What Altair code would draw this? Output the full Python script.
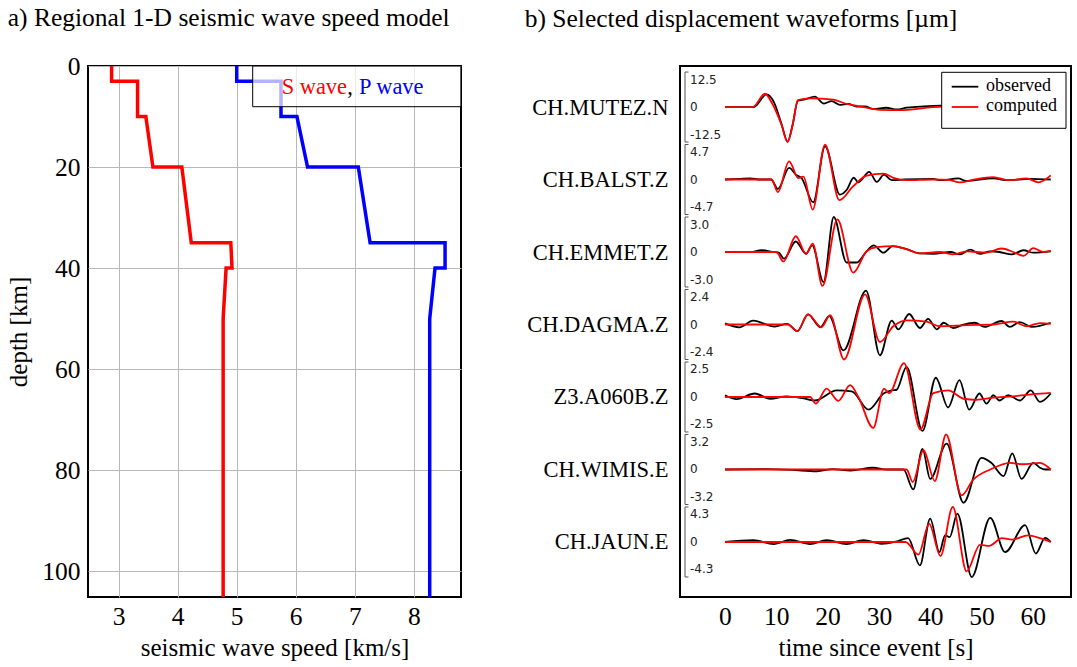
import altair as alt
import pandas as pd

SERIF = "Liberation Serif"
SANS = "DejaVu Sans"

# ---------------- panel a: regional 1-D model ----------------
S_DEPTH = [0, 3, 3, 10, 10, 20, 20, 35, 35, 40, 40, 50, 105.1]
S_SPEED = [2.88, 2.88, 3.32, 3.32, 3.46, 3.58, 4.07, 4.23, 4.90, 4.92, 4.82, 4.77, 4.77]
P_DEPTH = [0, 3, 3, 10, 10, 20, 20, 35, 35, 40, 40, 50, 105.1]
P_SPEED = [5.00, 5.00, 5.75, 5.75, 6.02, 6.20, 7.06, 7.26, 8.53, 8.53, 8.36, 8.27, 8.27]
SPEED_TICKS = [3, 4, 5, 6, 7, 8]
DEPTH_TICKS = [0, 20, 40, 60, 80, 100]

# ---------------- panel b: waveforms ----------------
STATIONS = ["CH.MUTEZ.N", "CH.BALST.Z", "CH.EMMET.Z", "CH.DAGMA.Z",
            "Z3.A060B.Z", "CH.WIMIS.E", "CH.JAUN.E"]
SCALES = [12.5, 4.7, 3.0, 2.4, 2.5, 3.2, 4.3]
TIME_TICKS = [0, 10, 20, 30, 40, 50, 60]

# (time s, amplitude as fraction of the trace scale)
MUTEZ_OBS = [(0, 0), (5.6, 0), (8.1, 0.36), (9.6, 0.12), (11.05, -0.5), (12.2, -0.99),
             (13.2, -0.5), (14.2, 0.18), (15.6, 0.22), (17.5, 0.30), (19.3, 0.10),
             (20.8, 0.17), (22.4, 0.06), (24.0, 0.09), (25.7, 0.01), (27.3, 0.02),
             (29.0, -0.06), (31.4, -0.02), (33.5, -0.07), (35.4, -0.02), (38.0, 0.01),
             (42.0, 0.04), (50.0, 0.0), (63.5, 0.0)]
MUTEZ_COM = [(0, 0), (5.4, 0), (7.8, 0.38), (9.1, 0.13), (11.0, -0.5), (12.2, -1.0),
             (13.2, -0.5), (14.2, 0.2), (16.6, 0.25), (21.1, 0.21), (23.7, 0.09),
             (26.3, 0.02), (30.2, -0.08), (34.1, -0.09), (40.6, 0.0), (44.0, 0.02),
             (63.5, 0.0)]

BALST_OBS = [(0, 0), (3.0, 0.02), (4.9, 0.03), (7.0, 0.0), (9.0, 0.0), (10.3, -0.27),
             (12.5, 0.33), (13.9, 0.13), (14.9, 0.05), (17.2, -0.65), (19.5, 0.95),
             (22.4, -0.43), (23.7, -0.30), (25.1, 0.05), (26.0, -0.08), (28.1, 0.22),
             (29.6, -0.07), (31.0, 0.14), (32.5, -0.02), (35.0, 0.0), (40.6, 0.02),
             (42.0, -0.02), (45.5, 0.03), (47.0, -0.04), (52.3, 0.03), (55.0, -0.02),
             (59.5, 0.02), (63.5, 0.0)]
BALST_COM = [(0, 0), (9.1, 0), (10.3, -0.36), (12.5, 0.52), (14.3, 0.04), (15.3, 0.08),
             (17.1, -0.86), (19.5, 1.0), (22.3, -0.59), (25.0, -0.19), (27.6, 0.11),
             (30.9, 0.17), (32.8, 0.05), (35.4, -0.02), (40.6, 0.0), (43.5, -0.01),
             (45.8, -0.08), (48.5, 0.0), (52.3, 0.07), (55.3, -0.02), (58.8, 0.03),
             (61.1, -0.08), (63.5, 0.12)]

EMMET_OBS = [(0, 0), (5.0, 0.0), (7.1, 0.05), (9.5, 0.0), (10.5, -0.02), (11.5, -0.19),
             (13.8, 0.30), (15.8, -0.05), (17.0, 0.19), (19.2, -0.86), (21.2, 1.0),
             (23.7, -0.30), (25.7, -0.30), (27.6, 0.02), (29.0, 0.19), (30.9, -0.02),
             (32.7, 0.17), (35.4, 0.08), (38.0, -0.04), (40.6, -0.05), (44.0, 0.0),
             (45.8, -0.07), (47.8, 0.07), (49.7, -0.05), (51.7, 0.02), (53.5, 0.0),
             (55.9, -0.07), (58.2, 0.05), (60.1, -0.02), (63.5, 0.02)]
EMMET_COM = [(0, 0), (10.0, 0), (11.4, -0.27), (13.8, 0.45), (15.8, -0.05), (17.1, 0.24),
             (19.0, -0.97), (21.9, 0.93), (25.0, -0.59), (27.6, 0.02), (29.6, 0.14),
             (32.8, 0.17), (35.4, 0.08), (38.0, -0.04), (41.9, 0.0), (44.5, -0.07),
             (47.1, 0.02), (50.9, -0.02), (53.9, 0.10), (56.2, 0.0), (58.2, -0.11),
             (60.1, 0.11), (62.0, 0.0), (63.5, 0.03)]

DAGMA_OBS = [(0, 0.03), (2.8, -0.08), (5.5, 0.11), (9.7, -0.06), (12.1, 0.02), (14.1, -0.19),
             (16.2, 0.29), (18.6, -0.08), (20.3, 0.24), (23.1, -0.74), (27.5, 0.97),
             (30.2, -0.88), (32.5, 0.11), (33.8, -0.14), (35.9, 0.30), (38.0, -0.10),
             (39.6, 0.16), (41.3, -0.14), (42.6, 0.05), (44.5, -0.10), (46.5, 0.0),
             (48.7, 0.05), (50.6, -0.07), (53.9, 0.10), (55.5, -0.07), (57.5, 0.07),
             (59.8, -0.07), (63.5, 0.05)]
DAGMA_COM = [(0, 0), (12.3, 0), (14.1, -0.19), (16.2, 0.29), (18.8, -0.08), (20.5, 0.27),
             (23.2, -1.0), (27.3, 0.86), (30.2, -0.5), (32.8, -0.05), (35.4, 0.12),
             (39.3, 0.08), (41.9, -0.05), (47.1, -0.02), (52.3, 0.0), (56.2, 0.08),
             (58.8, -0.05), (61.4, 0.04), (63.5, 0.02)]

A060B_OBS = [(0, 0.05), (2.3, -0.06), (5.8, 0.10), (8.8, -0.05), (12.0, 0.02), (15.3, -0.04),
             (17.5, -0.10), (21.8, 0.19), (24.7, 0.16), (28.0, -0.36), (30.9, 0.10),
             (32.5, 0.19), (33.4, 0.20), (35.4, 0.86), (38.5, -0.97), (41.1, 0.55),
             (43.5, -0.30), (45.7, 0.48), (47.6, -0.36), (49.6, 0.10), (51.0, -0.19),
             (52.3, 0.05), (53.5, -0.10), (55.2, 0.05), (57.5, -0.10), (59.6, 0.19),
             (61.4, -0.14), (63.5, 0.10)]
A060B_COM = [(0, 0), (16.6, 0), (17.7, -0.19), (19.8, 0.24), (22.1, -0.11), (24.4, 0.34),
             (26.0, 0.0), (28.9, -0.88), (31.0, 0.24), (32.0, 0.11), (34.9, 0.97),
             (38.1, -0.93), (40.6, 0.11), (43.5, 0.19), (46.5, -0.05), (49.0, -0.08),
             (52.3, -0.02), (56.2, 0.02), (60.1, 0.08), (63.5, 0.12)]

WIMIS_OBS = [(0, 0), (8.0, 0.01), (13.0, -0.01), (17.9, -0.05), (21.0, 0.01), (24.5, -0.03),
             (28.9, 0.05), (31.5, 0.0), (34.8, 0.0), (36.7, -0.57), (38.5, 0.59),
             (40.0, -0.27), (43.2, 0.74), (46.5, -0.95), (50.0, 0.33), (51.9, 0.19),
             (54.3, -0.19), (56.0, 0.46), (57.8, -0.27), (60.1, 0.19), (61.4, 0.05),
             (62.5, 0.0), (63.5, 0.0)]
WIMIS_COM = [(0, 0), (35.4, 0), (36.6, -0.36), (38.7, 0.55), (40.9, -0.33), (43.1, 1.0),
             (46.1, -0.74), (48.4, -0.29), (51.7, 0.0), (55.6, 0.19), (58.0, 0.15),
             (61.4, 0.19), (63.5, 0.0)]

JAUN_OBS = [(0, 0), (5.5, 0.05), (9.5, -0.06), (12.7, 0.06), (16.6, -0.06), (19.8, 0.05),
            (23.7, -0.06), (27.0, 0.05), (30.5, -0.05), (33.5, 0.02), (35.7, 0.11),
            (38.0, -0.67), (40.0, 0.67), (41.8, -0.29), (42.9, 0.19), (43.8, 0.14),
            (45.3, 0.81), (48.1, -1.0), (51.7, 0.69), (54.6, -0.29), (58.5, 0.48),
            (60.6, -0.33), (62.4, 0.12), (63.5, 0.0)]
JAUN_COM = [(0, 0), (35.2, 0), (37.7, -0.36), (39.8, 0.52), (42.0, -0.40), (44.4, 1.0),
            (47.1, -0.84), (49.7, -0.08), (51.5, -0.11), (54.0, 0.11), (56.0, 0.07),
            (59.1, 0.19), (61.4, 0.11), (63.5, 0.0)]

OBSERVED = [MUTEZ_OBS, BALST_OBS, EMMET_OBS, DAGMA_OBS, A060B_OBS, WIMIS_OBS, JAUN_OBS]
COMPUTED = [MUTEZ_COM, BALST_COM, EMMET_COM, DAGMA_COM, A060B_COM, WIMIS_COM, JAUN_COM]

# ---------------- layout constants ----------------
W1, W2, H = 373, 391, 531
AMP = 35 / 72.5        # half-height of a trace, in band units
LAB = 27.5 / 72.5      # offset of scale labels

def axis_style(**kw):
    base = dict(labelFont=SERIF, labelFontSize=25.5, titleFont=SERIF, titleFontSize=25,
                titleFontWeight="normal", labelColor="black", titleColor="black",
                ticks=False, domain=False, gridColor="#b8b8b8", gridWidth=1)
    base.update(kw)
    return alt.Axis(**base)

one = pd.DataFrame({"k": [0]})

# ---------- panel a ----------
model_rows = []
for name, deps, spds in (("S", S_DEPTH, S_SPEED), ("P", P_DEPTH, P_SPEED)):
    for k, (d, v) in enumerate(zip(deps, spds)):
        model_rows.append({"wave": name, "depth": d, "speed": v, "idx": k})
model = pd.DataFrame(model_rows)

lines_a = alt.Chart(model).mark_line(strokeWidth=3.5, strokeJoin="miter").encode(
    x=alt.X("speed:Q", scale=alt.Scale(domain=[2.48, 8.8], nice=False, zero=False),
            axis=axis_style(values=SPEED_TICKS, grid=True, title="seismic wave speed [km/s]",
                            labelPadding=7, titlePadding=6)),
    y=alt.Y("depth:Q", scale=alt.Scale(domain=[0, 105.1], nice=False, zero=False, reverse=True),
            axis=axis_style(values=DEPTH_TICKS, grid=True, title="depth [km]",
                            labelPadding=8, titlePadding=10)),
    color=alt.Color("wave:N", scale=alt.Scale(domain=["S", "P"], range=["#ff0000", "#0000ff"]),
                    legend=None),
    order=alt.Order("idx:Q"),
    detail="wave:N",
)

leg_a_box = alt.Chart(one).mark_rect(fill="white", fillOpacity=0.7, stroke="black",
                                     strokeWidth=1).encode(
    x=alt.value(164.7), x2=alt.value(W1), y=alt.value(0), y2=alt.value(40.7))
leg_a_s = alt.Chart(one).mark_text(text="S wave", font=SERIF, fontSize=22.4, color="#ff0000",
                                   align="left", baseline="alphabetic").encode(
    x=alt.value(193.7), y=alt.value(28.3))
leg_a_c = alt.Chart(one).mark_text(text=",", font=SERIF, fontSize=22.4, color="black",
                                   align="left", baseline="alphabetic").encode(
    x=alt.value(259.2), y=alt.value(28.3))
leg_a_p = alt.Chart(one).mark_text(text="P wave", font=SERIF, fontSize=22.4, color="#0000ff",
                                   align="left", baseline="alphabetic").encode(
    x=alt.value(271.0), y=alt.value(28.3))

panel_a = alt.layer(lines_a, leg_a_box, leg_a_s, leg_a_c, leg_a_p).properties(
    width=W1, height=H,
    title=alt.TitleParams("a) Regional 1-D seismic wave speed model", anchor="start",
                          frame="bounds", font=SERIF, fontSize=25.5, fontWeight="normal",
                          color="black", offset=23, dx=1))

# ---------- panel b ----------
rows = []
for i, (st, obs, com) in enumerate(zip(STATIONS, OBSERVED, COMPUTED)):
    for kind, pts in (("observed", obs), ("computed", com)):
        for k, (t, a) in enumerate(pts):
            rows.append({"station": st, "kind": kind, "t": t, "y": -i + a * AMP, "k": k})
wave = pd.DataFrame(rows)

label_expr = "[" + ",".join("'%s'" % s for s in STATIONS) + "][round(-datum.value)]"
xb = alt.X("t:Q", scale=alt.Scale(domain=[-8.77, 67.45], nice=False, zero=False),
           axis=axis_style(values=TIME_TICKS, grid=False, title="time since event [s]",
                           labelPadding=7, titlePadding=6))
yb_scale = alt.Scale(domain=[-6.759, 0.566], nice=False, zero=False)
yb = alt.Y("y:Q", scale=yb_scale,
           axis=axis_style(values=[0, -1, -2, -3, -4, -5, -6], grid=False, title=None,
                           labelExpr=label_expr, labelFontSize=22.5, labelPadding=12))

obs_lines = alt.Chart(wave).transform_filter(alt.datum.kind == "observed").mark_line(
    color="black", strokeWidth=1.8, interpolate="monotone").encode(
    x=xb, y=yb, detail="station:N", order=alt.Order("t:Q"))
com_lines = alt.Chart(wave).transform_filter(alt.datum.kind == "computed").mark_line(
    color="#ff0000", strokeWidth=1.8, interpolate="monotone").encode(
    x="t:Q", y="y:Q", detail="station:N", order=alt.Order("t:Q"))

bars = pd.DataFrame({
    "station": STATIONS,
    "top": [-i + AMP for i in range(len(STATIONS))],
    "bot": [-i - AMP for i in range(len(STATIONS))],
    "mid": [-i for i in range(len(STATIONS))],
    "hi": [-i + LAB for i in range(len(STATIONS))],
    "lo": [-i - LAB for i in range(len(STATIONS))],
    "lab_hi": ["%.1f" % s for s in SCALES],
    "lab_lo": ["-%.1f" % s for s in SCALES],
})
bar_v = alt.Chart(bars).mark_rule(color="#555555", strokeWidth=1).encode(
    x=alt.value(5), y=alt.Y("top:Q", scale=yb_scale), y2="bot:Q")
bar_t = alt.Chart(bars).mark_rule(color="#555555", strokeWidth=1).encode(
    x=alt.value(5), x2=alt.value(8.5), y=alt.Y("top:Q", scale=yb_scale))
bar_b = alt.Chart(bars).mark_rule(color="#555555", strokeWidth=1).encode(
    x=alt.value(5), x2=alt.value(8.5), y=alt.Y("bot:Q", scale=yb_scale))
txt_kw = dict(font=SANS, fontSize=12, color="#222222", align="left", baseline="middle")
lab_hi = alt.Chart(bars).mark_text(**txt_kw).encode(
    x=alt.value(10), y=alt.Y("hi:Q", scale=yb_scale), text="lab_hi:N")
lab_mid = alt.Chart(bars).mark_text(text="0", **txt_kw).encode(
    x=alt.value(10), y=alt.Y("mid:Q", scale=yb_scale))
lab_lo = alt.Chart(bars).mark_text(**txt_kw).encode(
    x=alt.value(10), y=alt.Y("lo:Q", scale=yb_scale), text="lab_lo:N")

leg_b_box = alt.Chart(one).mark_rect(fill="white", stroke="black", strokeWidth=1).encode(
    x=alt.value(261.7), x2=alt.value(386), y=alt.value(6.3), y2=alt.value(62.3))
leg_b_l1 = alt.Chart(one).mark_rule(color="black", strokeWidth=1.8).encode(
    x=alt.value(271.7), x2=alt.value(298.3), y=alt.value(20.7))
leg_b_l2 = alt.Chart(one).mark_rule(color="#ff0000", strokeWidth=1.8).encode(
    x=alt.value(271.7), x2=alt.value(298.3), y=alt.value(41))
leg_b_t1 = alt.Chart(one).mark_text(text="observed", font=SERIF, fontSize=18, color="black",
                                    align="left", baseline="middle").encode(
    x=alt.value(306), y=alt.value(20))
leg_b_t2 = alt.Chart(one).mark_text(text="computed", font=SERIF, fontSize=18, color="black",
                                    align="left", baseline="middle").encode(
    x=alt.value(306), y=alt.value(40))

panel_b = alt.layer(obs_lines, com_lines, bar_v, bar_t, bar_b, lab_hi, lab_mid, lab_lo,
                    leg_b_box, leg_b_l1, leg_b_l2, leg_b_t1, leg_b_t2).properties(
    width=W2, height=H,
    title=alt.TitleParams("b) Selected displacement waveforms [\u00b5m]", anchor="start",
                          frame="bounds", font=SERIF, fontSize=25.5, fontWeight="normal",
                          color="black", offset=34, dx=-2))

chart = alt.hconcat(panel_a, panel_b, spacing=219, bounds="flush").properties(
    padding={"left": 5, "top": 4, "right": 0, "bottom": 0}
).configure_view(stroke="black", strokeWidth=2)

chart.save("out.html", embed_options={"renderer": "svg", "actions": False})
